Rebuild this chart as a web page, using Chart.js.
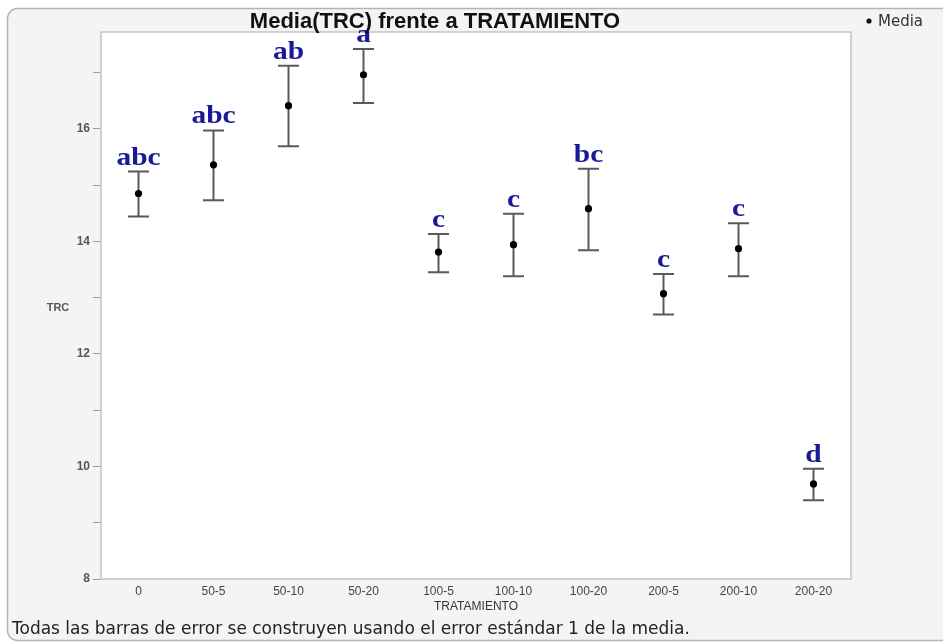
<!DOCTYPE html>
<html>
<head>
<meta charset="utf-8">
<script src="https://cdn.jsdelivr.net/npm/chart.js@4.4.1/dist/chart.umd.min.js"></script>
<style>
  body { margin: 0; background: #ffffff; }
  canvas { display: block; }
</style>
</head>
<body>
<canvas id="trcChart" width="943" height="643"></canvas>
<script>
// Data //
const tratamientos = ["0", "50-5", "50-10", "50-20", "100-5", "100-10", "100-20", "200-5", "200-10", "200-20"];
const medias = [14.85, 15.36, 16.41, 16.96, 13.81, 13.94, 14.58, 13.07, 13.87, 9.69];
const errorSuperior = [15.24, 15.97, 17.12, 17.42, 14.13, 14.49, 15.29, 13.42, 14.32, 9.96];
const errorInferior = [14.44, 14.73, 15.69, 16.46, 13.45, 13.38, 13.84, 12.70, 13.38, 9.40];
const letras = ["abc", "abc", "ab", "a", "c", "c", "bc", "c", "c", "d"];
const yTickLabels = [8, 10, 12, 14, 16];

//Panel + plot area background//
const fondoPlugin = {
  id: "fondo",
  beforeDraw(chart) {
    const c = chart.ctx;
    const a = chart.chartArea;
    c.save();
    c.fillStyle = "#f4f4f2";
    c.strokeStyle = "#b4b4b4";
    c.lineWidth = 1.5;
    c.beginPath();
    c.roundRect(7.5, 8.5, 960, 632, 10);
    c.fill();
    c.stroke();
    c.fillStyle = "#ffffff";
    c.fillRect(a.left, a.top, a.right - a.left, a.bottom - a.top);
    c.restore();
  },
  beforeDatasetsDraw(chart) {
    const c = chart.ctx;
    const a = chart.chartArea;
    c.save();
    c.strokeStyle = "#c4c4c4";
    c.lineWidth = 1.5;
    c.strokeRect(a.left, a.top, a.right - a.left, a.bottom - a.top);

    // error bars
    const x = chart.scales.x;
    const y = chart.scales.y;
    c.strokeStyle = "#5a5a5a";
    c.lineWidth = 2;
    tratamientos.forEach((t, i) => {
      const px = x.getPixelForValue(i);
      const top = y.getPixelForValue(errorSuperior[i]);
      const bot = y.getPixelForValue(errorInferior[i]);
      c.beginPath();
      c.moveTo(px, top);
      c.lineTo(px, bot);
      c.moveTo(px - 10.5, top);
      c.lineTo(px + 10.5, top);
      c.moveTo(px - 10.5, bot);
      c.lineTo(px + 10.5, bot);
      c.stroke();
    });
    c.restore();
  },
  afterDraw(chart) {
    const c = chart.ctx;
    const x = chart.scales.x;
    const y = chart.scales.y;
    c.save();
    // letters (a bit wider than the font, like the picture)
    c.fillStyle = "#1a1a96";
    c.font = "bold 25px 'Liberation Serif'";
    c.textAlign = "center";
    c.textBaseline = "alphabetic";
    letras.forEach((l, i) => {
      const px = x.getPixelForValue(i);
      const py = y.getPixelForValue(errorSuperior[i]) - 7;
      c.save();
      c.translate(px, py);
      c.scale(1.18, 1);
      c.fillText(l, 0, 0);
      c.restore();
    });
    // title
    c.fillStyle = "#111111";
    c.font = "bold 22px 'Liberation Sans'";
    c.fillText("Media(TRC) frente a TRATAMIENTO", 435, 28);
    // y label
    c.fillStyle = "#555555";
    c.font = "bold 11px 'Liberation Sans'";
    c.textBaseline = "middle";
    c.fillText("TRC", 58, 308);
    // legend
    c.fillStyle = "#111111";
    c.beginPath();
    c.arc(869, 21, 2.6, 0, Math.PI * 2);
    c.fill();
    c.fillStyle = "#333333";
    c.font = "15px 'DejaVu Sans'";
    c.textAlign = "left";
    c.fillText("Media", 878, 22);
    // footnote
    c.fillStyle = "#222222";
    c.font = "17px 'DejaVu Sans'";
    c.textBaseline = "alphabetic";
    c.fillText("Todas las barras de error se construyen usando el error estándar 1 de la media.", 12, 634);
    c.restore();
  },
};

//TRC Chart//
document.addEventListener("DOMContentLoaded", function () {
  const ctx = document.getElementById("trcChart").getContext("2d");
  const trcChart = new Chart(ctx, {
    type: "line",
    data: {
      labels: tratamientos,
      datasets: [
        {
          label: "Media",
          data: medias,
          showLine: false,
          pointRadius: 3.6,
          pointHoverRadius: 3.6,
          pointBackgroundColor: "#000000",
          pointBorderColor: "#000000",
          pointBorderWidth: 0,
        },
      ],
    },
    options: {
      responsive: false,
      animation: false,
      layout: {
        padding: { top: 32, right: 92, bottom: 24, left: 0 },
      },
      plugins: {
        legend: { display: false },
        tooltip: { enabled: false },
      },
      scales: {
        x: {
          offset: true,
          border: { display: false },
          grid: { display: false, drawTicks: false },
          ticks: {
            color: "#444444",
            font: { family: "Liberation Sans", size: 12 },
            padding: 5,
            maxRotation: 0,
            autoSkip: false,
          },
          title: {
            display: true,
            text: "TRATAMIENTO",
            color: "#333333",
            font: { family: "Liberation Sans", size: 12 },
            padding: { top: 0, bottom: 5 },
          },
          afterFit(scale) {
            scale.height = 40;
          },
        },
        y: {
          min: 8,
          max: 17.72,
          border: { display: false },
          grid: {
            drawOnChartArea: false,
            drawTicks: true,
            tickLength: 8,
            color: "#9a9a9a",
          },
          ticks: {
            stepSize: 1,
            padding: 3,
            color: "#555555",
            font: { family: "Liberation Sans", size: 12, weight: "bold" },
            callback: (v) => (yTickLabels.includes(v) ? v : ""),
          },
          afterBuildTicks(scale) {
            scale.ticks = scale.ticks.filter((t) => Number.isInteger(t.value));
          },
          afterFit(scale) {
            scale.width = 101;
          },
        },
      },
    },
    plugins: [fondoPlugin],
  });
});
</script>
</body>
</html>
